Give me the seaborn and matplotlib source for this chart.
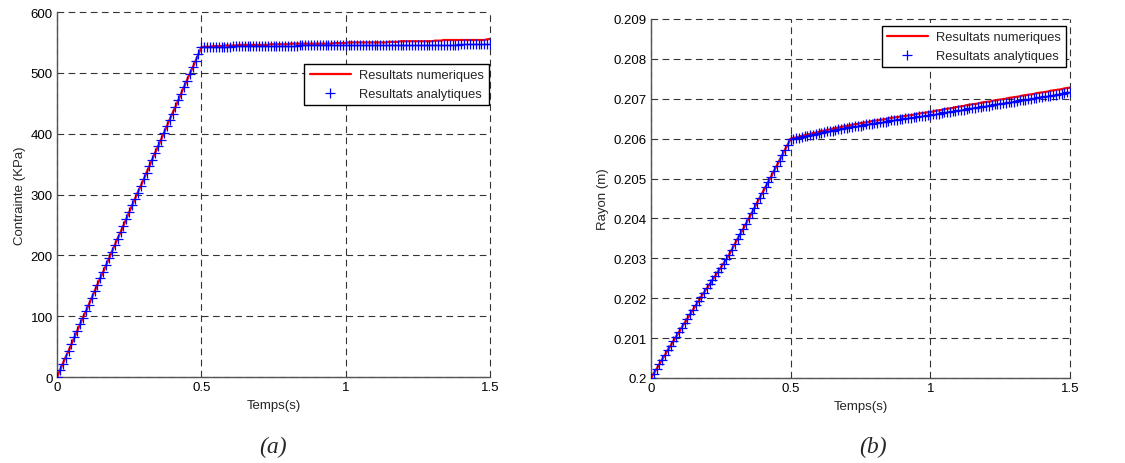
import matplotlib
matplotlib.use("Agg")
import matplotlib.pyplot as plt
import seaborn as sns

# sample times (s), 0.01 s step
time_s = [
    0.00, 0.01, 0.02, 0.03, 0.04, 0.05, 0.06, 0.07, 0.08, 0.09,
    0.10, 0.11, 0.12, 0.13, 0.14, 0.15, 0.16, 0.17, 0.18, 0.19,
    0.20, 0.21, 0.22, 0.23, 0.24, 0.25, 0.26, 0.27, 0.28, 0.29,
    0.30, 0.31, 0.32, 0.33, 0.34, 0.35, 0.36, 0.37, 0.38, 0.39,
    0.40, 0.41, 0.42, 0.43, 0.44, 0.45, 0.46, 0.47, 0.48, 0.49,
    0.50, 0.51, 0.52, 0.53, 0.54, 0.55, 0.56, 0.57, 0.58, 0.59,
    0.60, 0.61, 0.62, 0.63, 0.64, 0.65, 0.66, 0.67, 0.68, 0.69,
    0.70, 0.71, 0.72, 0.73, 0.74, 0.75, 0.76, 0.77, 0.78, 0.79,
    0.80, 0.81, 0.82, 0.83, 0.84, 0.85, 0.86, 0.87, 0.88, 0.89,
    0.90, 0.91, 0.92, 0.93, 0.94, 0.95, 0.96, 0.97, 0.98, 0.99,
    1.00, 1.01, 1.02, 1.03, 1.04, 1.05, 1.06, 1.07, 1.08, 1.09,
    1.10, 1.11, 1.12, 1.13, 1.14, 1.15, 1.16, 1.17, 1.18, 1.19,
    1.20, 1.21, 1.22, 1.23, 1.24, 1.25, 1.26, 1.27, 1.28, 1.29,
    1.30, 1.31, 1.32, 1.33, 1.34, 1.35, 1.36, 1.37, 1.38, 1.39,
    1.40, 1.41, 1.42, 1.43, 1.44, 1.45, 1.46, 1.47, 1.48, 1.49,
    1.50,
]

# (a) contrainte (KPa)
stress_num = [
    0, 11, 22, 33, 43, 54, 65, 76, 87, 98,
    108, 119, 130, 141, 152, 163, 173, 184, 195, 206,
    217, 228, 238, 249, 260, 271, 282, 293, 304, 314,
    325, 336, 347, 358, 369, 379, 390, 401, 412, 423,
    434, 444, 455, 466, 477, 488, 499, 509, 520, 531,
    542, 543, 543, 543, 544, 544, 544, 544, 545, 545,
    545, 545, 545, 546, 546, 546, 546, 546, 546, 546,
    546, 546, 546, 546, 547, 547, 547, 547, 547, 547,
    547, 548, 548, 548, 548, 548, 548, 548, 548, 548,
    548, 548, 548, 548, 548, 548, 549, 549, 549, 549,
    549, 550, 550, 550, 550, 550, 550, 550, 550, 550,
    550, 550, 550, 550, 550, 551, 551, 551, 551, 552,
    552, 552, 552, 552, 552, 552, 552, 552, 552, 552,
    552, 553, 553, 553, 554, 554, 554, 554, 554, 554,
    554, 554, 554, 554, 554, 554, 554, 554, 554, 555,
    556,
]
stress_ana = [
    0, 11, 22, 32, 43, 54, 65, 76, 87, 97,
    108, 119, 130, 141, 152, 162, 173, 184, 195, 206,
    217, 227, 238, 249, 260, 271, 282, 292, 303, 314,
    325, 336, 347, 357, 368, 379, 390, 401, 412, 422,
    433, 444, 455, 466, 477, 487, 498, 509, 520, 531,
    542, 543, 543, 543, 543, 543, 543, 543, 543, 543,
    543, 544, 544, 544, 544, 544, 544, 544, 544, 544,
    544, 544, 544, 544, 544, 544, 544, 544, 544, 544,
    544, 544, 544, 544, 545, 545, 545, 545, 545, 545,
    545, 545, 545, 545, 545, 545, 545, 545, 545, 545,
    545, 545, 545, 545, 545, 545, 545, 545, 545, 545,
    545, 545, 545, 545, 545, 545, 545, 545, 545, 545,
    546, 546, 546, 546, 546, 546, 546, 546, 546, 546,
    546, 546, 546, 546, 546, 546, 546, 546, 546, 546,
    547, 547, 547, 547, 547, 547, 547, 547, 547, 547,
    547,
]

# (b) rayon (m)
radius_num = [
    0.20000, 0.20012, 0.20023, 0.20035, 0.20047, 0.20058, 0.20070, 0.20081, 0.20093, 0.20104,
    0.20115, 0.20127, 0.20138, 0.20149, 0.20160, 0.20171, 0.20182, 0.20193, 0.20204, 0.20215,
    0.20225, 0.20235, 0.20246, 0.20256, 0.20267, 0.20277, 0.20288, 0.20298, 0.20310, 0.20323,
    0.20336, 0.20349, 0.20362, 0.20374, 0.20387, 0.20400, 0.20413, 0.20426, 0.20440, 0.20453,
    0.20466, 0.20479, 0.20492, 0.20505, 0.20519, 0.20532, 0.20546, 0.20559, 0.20573, 0.20586,
    0.20600, 0.20602, 0.20603, 0.20605, 0.20607, 0.20609, 0.20610, 0.20612, 0.20614, 0.20615,
    0.20617, 0.20619, 0.20620, 0.20622, 0.20623, 0.20625, 0.20626, 0.20628, 0.20629, 0.20631,
    0.20632, 0.20633, 0.20635, 0.20636, 0.20637, 0.20639, 0.20640, 0.20641, 0.20642, 0.20644,
    0.20645, 0.20646, 0.20647, 0.20648, 0.20649, 0.20651, 0.20652, 0.20653, 0.20654, 0.20655,
    0.20656, 0.20657, 0.20658, 0.20659, 0.20660, 0.20662, 0.20663, 0.20664, 0.20665, 0.20666,
    0.20667, 0.20668, 0.20670, 0.20671, 0.20672, 0.20674, 0.20675, 0.20676, 0.20677, 0.20679,
    0.20680, 0.20681, 0.20682, 0.20684, 0.20685, 0.20686, 0.20687, 0.20688, 0.20690, 0.20691,
    0.20692, 0.20693, 0.20694, 0.20696, 0.20697, 0.20698, 0.20699, 0.20700, 0.20702, 0.20703,
    0.20704, 0.20705, 0.20706, 0.20708, 0.20709, 0.20710, 0.20711, 0.20712, 0.20714, 0.20715,
    0.20716, 0.20717, 0.20718, 0.20720, 0.20721, 0.20722, 0.20723, 0.20724, 0.20726, 0.20727,
    0.20728,
]
radius_ana = [
    0.20000, 0.20011, 0.20023, 0.20035, 0.20046, 0.20058, 0.20069, 0.20081, 0.20092, 0.20104,
    0.20115, 0.20126, 0.20137, 0.20148, 0.20160, 0.20171, 0.20182, 0.20193, 0.20204, 0.20214,
    0.20225, 0.20235, 0.20245, 0.20256, 0.20266, 0.20277, 0.20287, 0.20298, 0.20309, 0.20322,
    0.20335, 0.20348, 0.20361, 0.20374, 0.20387, 0.20400, 0.20413, 0.20426, 0.20439, 0.20452,
    0.20465, 0.20478, 0.20491, 0.20505, 0.20518, 0.20531, 0.20545, 0.20558, 0.20572, 0.20585,
    0.20598, 0.20599, 0.20601, 0.20602, 0.20604, 0.20606, 0.20607, 0.20609, 0.20610, 0.20612,
    0.20613, 0.20615, 0.20616, 0.20618, 0.20619, 0.20620, 0.20622, 0.20623, 0.20625, 0.20626,
    0.20627, 0.20628, 0.20630, 0.20631, 0.20632, 0.20633, 0.20635, 0.20636, 0.20637, 0.20638,
    0.20639, 0.20640, 0.20641, 0.20642, 0.20643, 0.20645, 0.20646, 0.20647, 0.20648, 0.20649,
    0.20650, 0.20651, 0.20652, 0.20653, 0.20654, 0.20655, 0.20656, 0.20657, 0.20658, 0.20659,
    0.20660, 0.20661, 0.20662, 0.20663, 0.20665, 0.20666, 0.20667, 0.20668, 0.20669, 0.20670,
    0.20671, 0.20672, 0.20673, 0.20675, 0.20676, 0.20677, 0.20678, 0.20679, 0.20680, 0.20681,
    0.20682, 0.20683, 0.20685, 0.20686, 0.20687, 0.20688, 0.20689, 0.20690, 0.20691, 0.20692,
    0.20693, 0.20695, 0.20696, 0.20697, 0.20698, 0.20699, 0.20700, 0.20701, 0.20703, 0.20704,
    0.20705, 0.20706, 0.20707, 0.20708, 0.20709, 0.20710, 0.20712, 0.20713, 0.20714, 0.20716,
    0.20718,
]

x_ticks = [0, 0.5, 1, 1.5]
x_tick_labels = ["0", "0.5", "1", "1.5"]
stress_ticks = [0, 100, 200, 300, 400, 500, 600]
radius_ticks = [0.200, 0.201, 0.202, 0.203, 0.204, 0.205, 0.206, 0.207, 0.208, 0.209]
radius_tick_labels = ["0.2", "0.201", "0.202", "0.203", "0.204", "0.205",
                      "0.206", "0.207", "0.208", "0.209"]

LABEL_NUM = "Resultats numeriques"
LABEL_ANA = "Resultats analytiques"

sns.set_style("white")
plt.rcParams["font.family"] = ["Liberation Sans", "DejaVu Sans"]


def draw_panel(ax, y_num, y_ana, yticks, ytick_labels, ylabel, legend_anchor):
    sns.lineplot(x=time_s, y=y_num, ax=ax, color="#ff0000", linewidth=1.6,
                 label=LABEL_NUM, zorder=3)
    sns.scatterplot(x=time_s, y=y_ana, ax=ax, marker="+", color="#0000ff",
                    s=45, linewidth=0.9, label=LABEL_ANA, zorder=4)
    ax.set_xlim(0, 1.5)
    ax.set_ylim(yticks[0], yticks[-1])
    ax.set_xticks(x_ticks)
    ax.set_xticklabels(x_tick_labels)
    ax.set_yticks(yticks)
    ax.set_yticklabels(ytick_labels)
    # MATLAB-like dashed grid, no box on top/right
    ax.grid(True, color="#333333", linestyle=(0, (6, 4)), linewidth=0.8)
    # keep the grid lines lying on the axes limits fully visible
    for gl in ax.get_xgridlines() + ax.get_ygridlines():
        gl.set_clip_on(False)
    ax.tick_params(direction="in", length=4, width=0.7, labelsize=9.5,
                   top=False, right=False, pad=3, colors="black")
    ax.spines["top"].set_visible(False)
    ax.spines["right"].set_visible(False)
    for side in ("left", "bottom"):
        ax.spines[side].set_color("#555555")
        ax.spines[side].set_linewidth(1.0)
    ax.set_xlabel("Temps(s)", fontsize=9.5, labelpad=4)
    ax.set_ylabel(ylabel, fontsize=9.5, labelpad=3)
    leg = ax.legend(loc="upper right", bbox_to_anchor=legend_anchor,
                    borderaxespad=0, fontsize=9.3, fancybox=False,
                    framealpha=1, edgecolor="black", handlelength=3.2,
                    handletextpad=0.6, borderpad=0.4, labelspacing=0.5)
    leg.get_frame().set_linewidth(1.0)
    leg.set_zorder(10)


fig = plt.figure(figsize=(11.25, 4.64), dpi=100)
ax_a = fig.add_axes([0.0507, 0.1853, 0.3849, 0.7866])
ax_b = fig.add_axes([0.5787, 0.1832, 0.3724, 0.7737])

draw_panel(ax_a, stress_num, stress_ana, stress_ticks,
           [str(v) for v in stress_ticks], "Contrainte (KPa)", (0.997, 0.858))
draw_panel(ax_b, radius_num, radius_ana, radius_ticks,
           radius_tick_labels, "Rayon (m)", (0.99, 0.98))

fig.text(0.2427, 0.035, "(a)", ha="center", va="center", fontsize=17,
         style="italic", family=["Liberation Serif", "DejaVu Serif"])
fig.text(0.776, 0.035, "(b)", ha="center", va="center", fontsize=17,
         style="italic", family=["Liberation Serif", "DejaVu Serif"])

fig.savefig("out.png", dpi=100)
